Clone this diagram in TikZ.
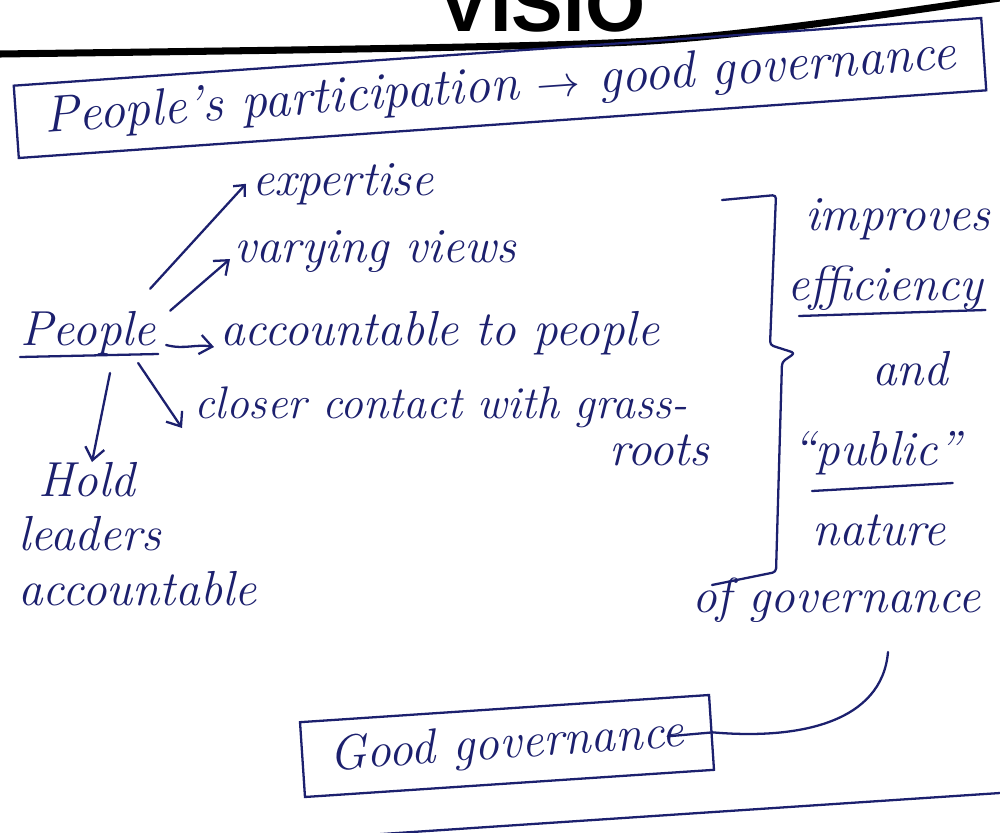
\documentclass[tikz,border=0pt]{standalone}
\usepackage{fontspec}
\newfontfamily\titlefont{Liberation Sans}
\usetikzlibrary{arrows.meta,positioning}
\definecolor{ink}{RGB}{28,32,110}
\tikzset{
  note/.style={text=ink, font=\fontsize{28}{31}\selectfont\itshape, inner sep=1pt},
  inkline/.style={draw=ink, line width=1.3pt, line cap=round, line join=round},
  arr/.style={inkline, -{Straight Barb[length=7pt,width=11pt]}},
  framed/.style={note, draw=ink, line width=1.3pt},
}
\begin{document}
\begin{tikzpicture}[x=0.02cm, y=-0.02cm]
  \useasboundingbox (0,0) rectangle (1000,832);
  \fill[white] (0,0) rectangle (1000,832);
  % heading, cut at the top edge
  \node (title) [anchor=base, font=\titlefont\bfseries\fontsize{44}{44}\selectfont] at (542,31) {VISIO};
  \draw[line width=4pt] (0,54) .. controls (300,50) and (550,47) .. (650,41) .. controls (760,34) and (900,12) .. (1000,-2);
  \node (topbox) [framed, rotate=4, minimum width=19.4cm, minimum height=1.45cm,
    font=\fontsize{29.5}{33}\selectfont\itshape] at (500,88)
    {People's participation $\to$ good governance};
  % the people branch
  \node (people) [note, anchor=base west] at (18,345) {People};
  \draw[inkline] ([shift={(2,12)}]people.base west) -- ([shift={(0,9)}]people.base east);
  \node (expert) [note, anchor=base west] at (250,195) {expertise};
  \node (views) [note, anchor=base west] at (232,262) {varying views};
  \node (acc) [note, anchor=base west] at (218,345) {accountable to people};
  \node (closer) [note, anchor=base west, font=\fontsize{26}{29}\selectfont\itshape] at (192,418) {closer contact with grass-};
  \node (roots) [note, anchor=base east] at ([shift={(22,47)}]closer.base east) {roots};
  \node (hold) [note, align=left, anchor=north west] at (16,460) {\hspace*{0.4cm}Hold\\leaders\\accountable};
  \draw[inkline, -{Straight Barb[length=5pt,width=9pt]}] ([shift={(-8,-20)}]people.north east) -- ([shift={(-4,0)}]expert.west);
  \draw[arr] ([shift={(12,-22)}]people.east) -- ([shift={(-2,8)}]views.west);
  \draw[arr] ([shift={(8,0)}]people.base east) to[out=-15,in=170] ([shift={(-4,2)}]acc.base west);
  \draw[arr] ([shift={(-20,18)}]people.base east) -- ([shift={(-10,10)}]closer.base west);
  \draw[arr] ([shift={(92,28)}]people.base west) -- ([shift={(76,2)}]hold.north west);
  % what it leads to
  \draw[inkline, rounded corners=2pt] (722,200) -- (776,195) -- (770,345) -- (795,353) -- (782,362) -- (776,572) -- (712,585);
  \node (impr) [note, anchor=base west] at (803,230) {improves};
  \node (eff) [note, anchor=base west] at (785,300) {efficiency};
  \draw[inkline] ([shift={(14,16)}]eff.base west) -- ([shift={(0,10)}]eff.base east);
  \node (and) [note, anchor=base west] at (870,385) {and};
  \node (public) [note, anchor=base west] at (790,465) {“public”};
  \draw[inkline] ([shift={(22,26)}]public.base west) -- ([shift={(-10,18)}]public.base east);
  \node (nature) [note, anchor=base west] at (810,545) {nature};
  \node (ofgov) [note, anchor=base west] at (690,612) {of governance};
  \coordinate (tail) at (888,652);
  \node (goodgov) [framed, rotate=3.8, minimum width=8.2cm, minimum height=1.5cm] at (507,746) {Good governance};
  \draw[inkline] (tail) .. controls (882,722) and (800,740) .. (goodgov.east) -- ([shift={(-45,4)}]goodgov.east);
  \draw[inkline] (352,836) -- (1000,793);
\end{tikzpicture}
\end{document}
